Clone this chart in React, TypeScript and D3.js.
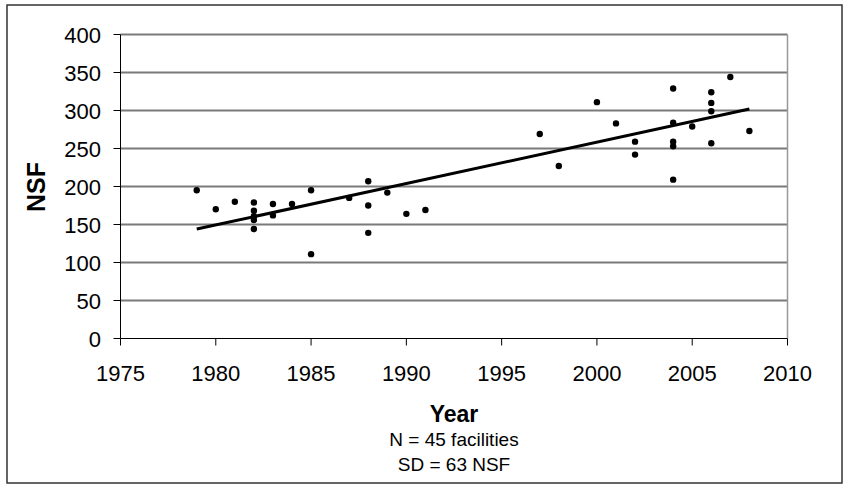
import React from "react";
import * as d3 from "d3";

const years = [
  1979, 1980, 1981, 1982, 1982, 1982, 1982, 1982, 1983, 1983, 1984, 1985, 1985,
  1987, 1988, 1988, 1988, 1989, 1990, 1991,
  1997, 1998, 2000, 2001, 2002, 2002, 2004, 2004, 2004, 2004, 2004, 2005,
  2006, 2006, 2006, 2006, 2007, 2008,
];
const nsf = [
  195, 170, 180, 179, 168, 161, 156, 144, 177, 162, 177, 195, 111,
  185, 207, 175, 139, 192, 164, 169,
  269, 227, 311, 283, 259, 242, 329, 284, 259, 253, 209, 279,
  324, 310, 299, 257, 344, 273,
];
const trendYears = [1979, 2008];
const trendValues = [144, 302];
const xTicks = [1975, 1980, 1985, 1990, 1995, 2000, 2005, 2010];
const yTicks = [0, 50, 100, 150, 200, 250, 300, 350, 400];

const W = 846;
const H = 485;
const left = 120.5;
const right = 787.5;
const top = 34.5;
const bottom = 338.5;
const font = "'Liberation Sans', Arial, Helvetica, sans-serif";

export default function App() {
  const x = d3.scaleLinear().domain([1975, 2010]).range([left, right]);
  const y = d3.scaleLinear().domain([0, 400]).range([bottom, top]);
  const line = d3
    .line<number>()
    .x((_, i) => x(trendYears[i]))
    .y((v) => y(v));

  return (
    <svg
      width={W}
      height={H}
      style={{ position: "absolute", left: 0, top: 0, background: "#fff" }}
    >
      <rect x={7} y={5} width={835} height={478} fill="#fff" stroke="#333" strokeWidth={1.5} />
      {yTicks.filter((t) => t > 0).map((t) => (
        <line key={t} x1={left} x2={right} y1={y(t)} y2={y(t)} stroke="#7a7a7a" strokeWidth={1.8} />
      ))}
      <line x1={right} x2={right} y1={top} y2={bottom} stroke="#999" strokeWidth={1.5} />
      <line x1={left} x2={left} y1={top} y2={bottom} stroke="#000" strokeWidth={1} />
      <line x1={left} x2={right} y1={bottom} y2={bottom} stroke="#000" strokeWidth={1} />
      {yTicks.map((t) => (
        <g key={t}>
          <line x1={left - 7} x2={left} y1={y(t)} y2={y(t)} stroke="#000" strokeWidth={1} />
          <text x={101} y={y(t) + 8} textAnchor="end" fontFamily={font} fontSize={22} fill="#000">
            {t}
          </text>
        </g>
      ))}
      {xTicks.map((t) => (
        <g key={t}>
          <line x1={x(t)} x2={x(t)} y1={bottom} y2={bottom + 7} stroke="#000" strokeWidth={1} />
          <text x={x(t)} y={381} textAnchor="middle" fontFamily={font} fontSize={22} fill="#000">
            {t}
          </text>
        </g>
      ))}
      <path d={line(trendValues) || ""} fill="none" stroke="#000" strokeWidth={3} />
      {years.map((yr, i) => (
        <circle key={i} cx={x(yr)} cy={y(nsf[i])} r={3.2} fill="#000" />
      ))}
      <text
        transform={`translate(45,187) rotate(-90)`}
        textAnchor="middle"
        fontFamily={font}
        fontSize={25}
        fontWeight="bold"
        fill="#000"
      >
        NSF
      </text>
      <text x={454} y={422} textAnchor="middle" fontFamily={font} fontSize={23} fontWeight="bold" fill="#000">
        Year
      </text>
      <text x={454} y={446} textAnchor="middle" fontFamily={font} fontSize={19} fill="#000">
        N = 45 facilities
      </text>
      <text x={454} y={471} textAnchor="middle" fontFamily={font} fontSize={19} fill="#000">
        SD = 63 NSF
      </text>
    </svg>
  );
}
